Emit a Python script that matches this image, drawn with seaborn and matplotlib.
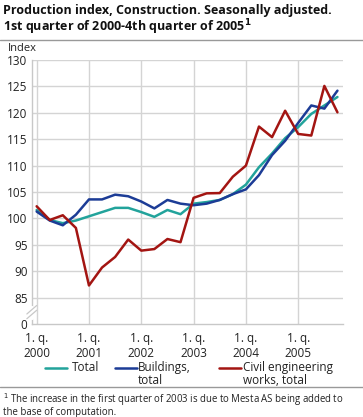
import numpy as np
import pandas as pd
import matplotlib
matplotlib.use("Agg")
import matplotlib.pyplot as plt
import seaborn as sns

sns.set_style("white")
plt.rcParams["font.family"] = ["Open Sans", "DejaVu Sans"]

quarters = [f"{y}Q{q}" for y in range(2000, 2006) for q in range(1, 5)]
total = [101.6, 99.7, 99.1, 99.6, 100.4, 101.2, 102.0, 102.0, 101.2, 100.3, 101.6, 100.8,
         102.8, 103.1, 103.5, 104.6, 106.4, 109.7, 112.3, 115.2, 117.3, 119.8, 121.4, 123.0]
buildings = [101.3, 99.6, 98.7, 100.7, 103.6, 103.6, 104.5, 104.2, 103.2, 101.9, 103.5, 102.8,
             102.5, 102.8, 103.5, 104.6, 105.5, 108.2, 112.0, 114.7, 118.1, 121.4, 120.8, 124.2]
civil = [102.3, 99.7, 100.6, 98.2, 87.3, 90.7, 92.7, 96.0, 93.9, 94.2, 96.1, 95.5,
         103.9, 104.75, 104.8, 107.9, 110.0, 117.4, 115.4, 120.4, 116.0, 115.7, 125.1, 120.1]
series_names = ["Total", "Buildings,\ntotal", "Civil engineering\nworks, total"]
colors = ["#22a39b", "#1c3c96", "#a31512"]
year_labels = ["1. q.\n2000", "1. q.\n2001", "1. q.\n2002", "1. q.\n2003", "1. q.\n2004", "1. q.\n2005"]
y_ticks = [80, 85, 90, 95, 100, 105, 110, 115, 120, 125, 130]
y_labels = ["0", "85", "90", "95", "100", "105", "110", "115", "120", "125", "130"]

df = pd.DataFrame({
    "idx": list(range(len(quarters))) * 3,
    "value": total + buildings + civil,
    "series": [series_names[0]] * 24 + [series_names[1]] * 24 + [series_names[2]] * 24,
})

fig = plt.figure(figsize=(3.63, 4.17), dpi=100)
ax = fig.add_axes([0.0873, 0.223, 0.944 - 0.0873, 0.856 - 0.223])

sns.lineplot(data=df, x="idx", y="value", hue="series", palette=colors,
             hue_order=series_names, linewidth=1.8, ax=ax, legend=False)

ax.set_xlim(-0.38, 23.4)
ax.set_ylim(80, 130)
ax.set_yticks(y_ticks)
ax.set_yticklabels(y_labels)
ax.set_xticks(range(0, 24, 4))
ax.set_xticklabels(year_labels)
ax.set_xticks(range(24), minor=True)
ax.set_xlabel("")
ax.set_ylabel("")
gc = "#d4d4d4"
for yv in y_ticks[1:]:
    ax.axhline(yv, color=gc, lw=1.0, zorder=0)
for xv in range(0, 24, 4):
    ax.axvline(xv, color=gc, lw=1.0, zorder=0)
for s in ["top", "right"]:
    ax.spines[s].set_visible(False)
for s in ["left", "bottom"]:
    ax.spines[s].set_color("#c8c8c8")
    ax.spines[s].set_linewidth(1.0)
ax.tick_params(axis="y", length=0, labelsize=8.5, pad=3, colors="#222222")
ax.tick_params(axis="x", which="both", direction="in", length=5, color="#c8c8c8",
               labelsize=8.5, pad=5.5, labelcolor="#222222")

# axis break marks
ax.plot([-0.38, -0.38], [81.2, 83.0], color="white", lw=3, clip_on=False, zorder=5)
for dy in (0, 0.9):
    ax.plot([-0.75, 0.0], [81.0 + dy, 82.6 + dy], color="#c8c8c8", lw=0.9,
            clip_on=False, zorder=6)

fig.text(0.008, 0.975, "Production index, Construction. Seasonally adjusted.",
         fontsize=9.0, fontweight="bold", va="center", ha="left", color="#111111")
fig.text(0.008, 0.935, "1st quarter of 2000-4th quarter of 2005$^{\\mathbf{1}}$",
         fontsize=9.0, fontweight="bold", va="center", ha="left", color="#111111")
fig.add_artist(plt.Line2D([0, 1], [0.903, 0.903], color="#999999", lw=1.0))
fig.text(0.022, 0.884, "Index", fontsize=8, va="center", ha="left", color="#222222")

# legend
leg_y = 1 - 368 / 417
items = [(45, 72), (115, 138), (219, 243)]
for (x0, xt), name, c in zip(items, series_names, colors):
    fig.add_artist(plt.Line2D([x0 / 363, (x0 + 22) / 363], [leg_y, leg_y], color=c, lw=1.8))
    fig.text(xt / 363, leg_y + 0.017, name, fontsize=8.5, va="top", ha="left",
             color="#222222", linespacing=1.05)
fig.add_artist(plt.Line2D([0, 1], [1 - 387 / 417, 1 - 387 / 417], color="#999999", lw=1.0))
fig.text(0.008, 1 - 400 / 417,
         "$^1$ The increase in the first quarter of 2003 is due to Mesta AS being added to",
         fontsize=6.9, va="center", ha="left", color="#222222")
fig.text(0.008, 1 - 413 / 417, "the base of computation.",
         fontsize=6.9, va="center", ha="left", color="#222222")

fig.savefig("out.png", dpi=100)
